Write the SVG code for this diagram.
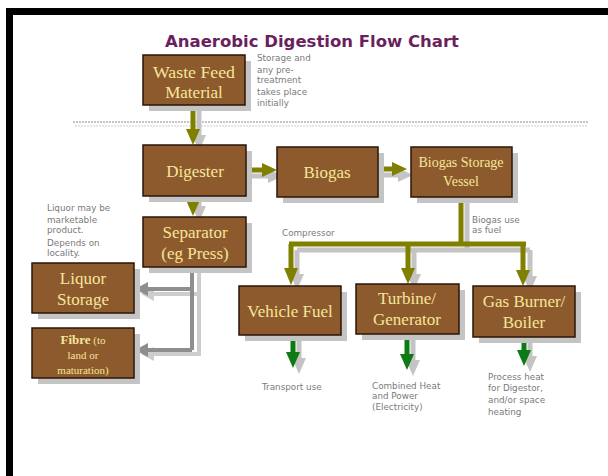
<svg xmlns="http://www.w3.org/2000/svg" width="608" height="476" viewBox="0 0 608 476">
<style>
.box{fill:#8c5a2c;stroke:#2a1608;stroke-width:1.5}
.sh{fill:#c4c4c4}
.bt{font-family:"Liberation Serif",serif;fill:#f6e69a;text-anchor:middle}
.note{font-family:"DejaVu Sans",sans-serif;font-size:8.8px;fill:#7a7a7a}
.ol{stroke:#7f7f00;stroke-width:5;fill:none}
.olh{fill:#7f7f00}
.gr{stroke:#0e7a16;stroke-width:5;fill:none}
.grh{fill:#0e7a16}
.shl{stroke:#c4c4c4;stroke-width:5;fill:none}
.shh{fill:#c4c4c4}
.gy{stroke:#8e8e8e;stroke-width:4;fill:none}
.gyh{fill:#8e8e8e}
</style>
<rect width="608" height="476" fill="#ffffff"/>
<rect x="6" y="8" width="602" height="7" fill="#000"/>
<rect x="6" y="8" width="7" height="468" fill="#000"/>
<text x="312" y="47" font-family="DejaVu Sans,sans-serif" font-size="16" font-weight="bold" fill="#6b1f5e" text-anchor="middle" textLength="294" lengthAdjust="spacingAndGlyphs">Anaerobic Digestion Flow Chart</text>
<g id="divider">
<line x1="73" y1="122" x2="588" y2="122" stroke="#8a8a8a" stroke-width="1.2" stroke-dasharray="2,1"/>
<line x1="75" y1="126" x2="588" y2="126" stroke="#cfcfcf" stroke-width="1" stroke-dasharray="2,1"/>
</g>
<g id="connectors">
<path class="shl" d="M199 111 V137"/>
<polygon class="shh" points="192,135 206,135 199,151"/>
<path class="shl" d="M252 176 H270"/>
<polygon class="shh" points="268,169 268,183 283,176"/>
<path class="shl" d="M199 202 V208"/>
<polygon class="shh" points="192,206 206,206 199,222"/>
<path class="shl" d="M384 175 H400"/>
<polygon class="shh" points="398,168 398,182 413,175"/>
<path class="shl" d="M467 203 V250 M297 250 H530 M297 250 V276 M414 250 V276 M530 250 V278"/>
<polygon class="shh" points="290,274 304,274 297,290"/>
<polygon class="shh" points="407,274 421,274 414,290"/>
<polygon class="shh" points="523,276 537,276 530,292"/>
<path class="shl" d="M299 341 V360 M413 340 V362 M530 343 V358"/>
<polygon class="shh" points="292,358 306,358 299,374"/>
<polygon class="shh" points="406,360 420,360 413,376"/>
<polygon class="shh" points="523,356 537,356 530,372"/>
<path d="M199 273 V356 M199 294 H152 M199 354 H152" stroke="#cdcdcd" stroke-width="4" fill="none"/>
<polygon points="154,287 154,301 141,294" fill="#cdcdcd"/>
<polygon points="154,347 154,361 141,354" fill="#cdcdcd"/>
<path class="ol" d="M193 105 V131"/>
<polygon class="olh" points="186,129 200,129 193,145"/>
<path class="ol" d="M246 170 H264"/>
<polygon class="olh" points="262,163 262,177 277,170"/>
<path class="ol" d="M193 196 V202"/>
<polygon class="olh" points="186,200 200,200 193,216"/>
<path class="ol" d="M378 169 H394"/>
<polygon class="olh" points="392,162 392,176 407,169"/>
<path class="ol" d="M461 197 V244 M289 244 H526 M291 244 V270 M408 244 V270 M523 244 V272"/>
<polygon class="olh" points="284,268 298,268 291,285"/>
<polygon class="olh" points="401,268 415,268 408,284"/>
<polygon class="olh" points="516,270 530,270 523,286"/>
<path class="gy" d="M192 267 V350 M192 289 H146 M192 350 H146"/>
<polygon class="gyh" points="148,282 148,296 135,289"/>
<polygon class="gyh" points="148,343 148,357 135,350"/>
<path class="gr" d="M293 335 V354 M407 334 V356 M524 337 V352"/>
<polygon class="grh" points="286,352 300,352 293,368"/>
<polygon class="grh" points="400,354 414,354 407,370"/>
<polygon class="grh" points="517,350 531,350 524,366"/>
</g>
<g id="waste-feed">
<rect class="sh" x="149" y="61" width="102" height="50"/>
<rect class="box" x="143" y="55" width="102" height="50"/>
<text class="bt" font-size="17" x="194" y="78" textLength="82" lengthAdjust="spacingAndGlyphs">Waste Feed</text>
<text class="bt" font-size="17" x="194" y="98">Material</text>
</g>
<g id="storage-note" class="note">
<text x="257" y="61">Storage and</text>
<text x="257" y="73">any pre-</text>
<text x="257" y="83">treatment</text>
<text x="257" y="95">takes place</text>
<text x="257" y="106">initially</text>
</g>
<g id="digester">
<rect class="sh" x="149" y="151" width="103" height="51"/>
<rect class="box" x="143" y="145" width="103" height="51"/>
<text class="bt" font-size="17" x="195" y="177">Digester</text>
</g>
<g id="biogas">
<rect class="sh" x="283" y="153" width="101" height="50"/>
<rect class="box" x="277" y="147" width="101" height="50"/>
<text class="bt" font-size="17" x="327" y="178">Biogas</text>
</g>
<g id="biogas-storage">
<rect class="sh" x="417" y="153" width="101" height="50"/>
<rect class="box" x="411" y="147" width="101" height="50"/>
<text class="bt" font-size="14" x="461" y="167">Biogas Storage</text>
<text class="bt" font-size="14" x="461" y="186">Vessel</text>
</g>
<g id="separator">
<rect class="sh" x="149" y="223" width="103" height="50"/>
<rect class="box" x="143" y="217" width="103" height="50"/>
<text class="bt" font-size="17" x="195" y="238">Separator</text>
<text class="bt" font-size="17" x="195" y="259">(eg Press)</text>
</g>
<g id="liquor-note" class="note">
<text x="47" y="211">Liquor may be</text>
<text x="47" y="223">marketable</text>
<text x="47" y="233">product.</text>
<text x="47" y="246">Depends on</text>
<text x="47" y="256">locality.</text>
</g>
<g id="fuel-note" class="note">
<text x="472" y="223">Biogas use</text>
<text x="472" y="233">as fuel</text>
</g>
<text class="note" x="282" y="236">Compressor</text>
<g id="liquor-storage">
<rect class="sh" x="38" y="269" width="102" height="50"/>
<rect class="box" x="32" y="263" width="102" height="50"/>
<text class="bt" font-size="17" x="83" y="284">Liquor</text>
<text class="bt" font-size="17" x="83" y="305">Storage</text>
</g>
<g id="fibre">
<rect class="sh" x="38" y="334" width="102" height="50"/>
<rect class="box" x="32" y="328" width="102" height="50"/>
<text class="bt" font-size="11" x="83" y="344"><tspan font-size="13" font-weight="bold">Fibre</tspan> (to</text>
<text class="bt" font-size="11" x="83" y="359">land or</text>
<text class="bt" font-size="11" x="83" y="374">maturation)</text>
</g>
<g id="vehicle-fuel">
<rect class="sh" x="245" y="292" width="102" height="49"/>
<rect class="box" x="239" y="286" width="102" height="49"/>
<text class="bt" font-size="17" x="290" y="317">Vehicle Fuel</text>
</g>
<g id="turbine">
<rect class="sh" x="362" y="290" width="103" height="50"/>
<rect class="box" x="356" y="284" width="103" height="50"/>
<text class="bt" font-size="17" x="407" y="304">Turbine/</text>
<text class="bt" font-size="17" x="407" y="325">Generator</text>
</g>
<g id="gas-burner">
<rect class="sh" x="479" y="292" width="102" height="51"/>
<rect class="box" x="473" y="286" width="102" height="51"/>
<text class="bt" font-size="17" x="524" y="307">Gas Burner/</text>
<text class="bt" font-size="17" x="524" y="328">Boiler</text>
</g>
<text class="note" x="262" y="390">Transport use</text>
<g id="chp-note" class="note">
<text x="372" y="389">Combined Heat</text>
<text x="372" y="399">and Power</text>
<text x="372" y="410">(Electricity)</text>
</g>
<g id="heat-note" class="note">
<text x="488" y="380">Process heat</text>
<text x="488" y="391">for Digestor,</text>
<text x="488" y="403">and/or space</text>
<text x="488" y="415">heating</text>
</g>
</svg>
